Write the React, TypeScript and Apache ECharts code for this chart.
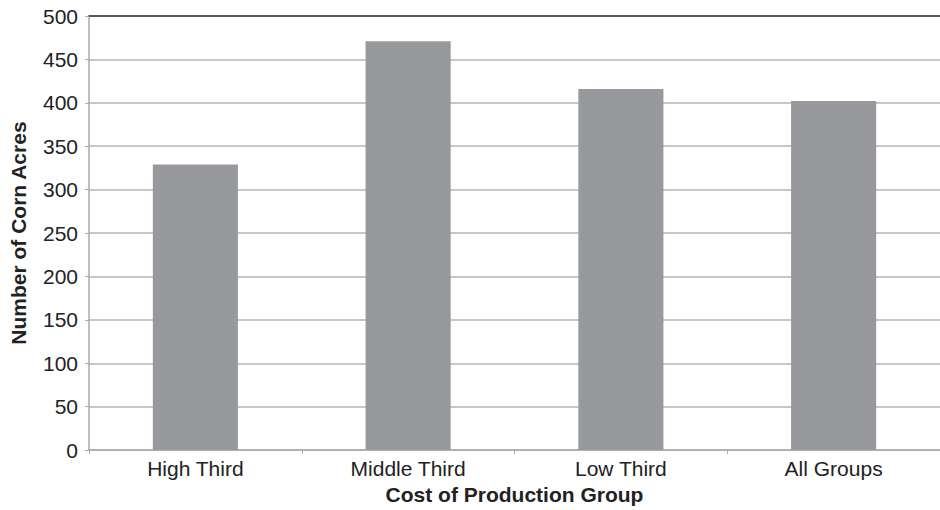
import React, { useEffect, useRef } from "react";
import * as echarts from "echarts";

const categories = ["High Third", "Middle Third", "Low Third", "All Groups"];
const acres = [329, 471, 416, 402];

export default function App() {
  const ref = useRef<HTMLDivElement>(null);
  useEffect(() => {
    const chart = echarts.init(ref.current!, null, { renderer: "svg" });
    const font = "'Liberation Sans', Arial, sans-serif";
    chart.setOption({
      animation: false,
      grid: { left: 88, right: -7, top: 16, bottom: 57 },
      xAxis: [
        {
          type: "category",
          data: categories,
          axisLine: { lineStyle: { color: "#aaaaaa", width: 1.5 } },
          axisTick: { show: true, length: 4, lineStyle: { color: "#aaaaaa" } },
          axisLabel: { color: "#222", fontSize: 21, fontFamily: font, margin: 8 },
          name: "Cost of Production Group",
          nameLocation: "middle",
          nameGap: 33,
          nameTextStyle: { color: "#222", fontSize: 21, fontWeight: "bold", fontFamily: font },
        },
        {
          type: "category",
          position: "top",
          data: categories,
          axisLine: { show: true, lineStyle: { color: "#333333", width: 1.5 } },
          axisTick: { show: false },
          axisLabel: { show: false },
        },
      ],
      yAxis: {
        type: "value",
        min: 0,
        max: 500,
        interval: 50,
        axisLine: { show: true, lineStyle: { color: "#aaaaaa", width: 1.5 } },
        axisTick: { show: true, length: 4, lineStyle: { color: "#aaaaaa" } },
        splitLine: { lineStyle: { color: "#b4b4b4", width: 1.5 } },
        axisLabel: { color: "#222", fontSize: 21, fontFamily: font, margin: 11 },
        name: "Number of Corn Acres",
        nameLocation: "middle",
        nameGap: 60,
        nameTextStyle: { color: "#222", fontSize: 21, fontWeight: "bold", fontFamily: font },
      },
      series: [
        {
          type: "bar",
          data: acres,
          barWidth: "40%",
          itemStyle: { color: "#98999d" },
        },
      ],
    });
    return () => chart.dispose();
  }, []);
  return <div ref={ref} style={{ width: 940, height: 510, position: "absolute", left: 0, top: 0 }} />;
}
